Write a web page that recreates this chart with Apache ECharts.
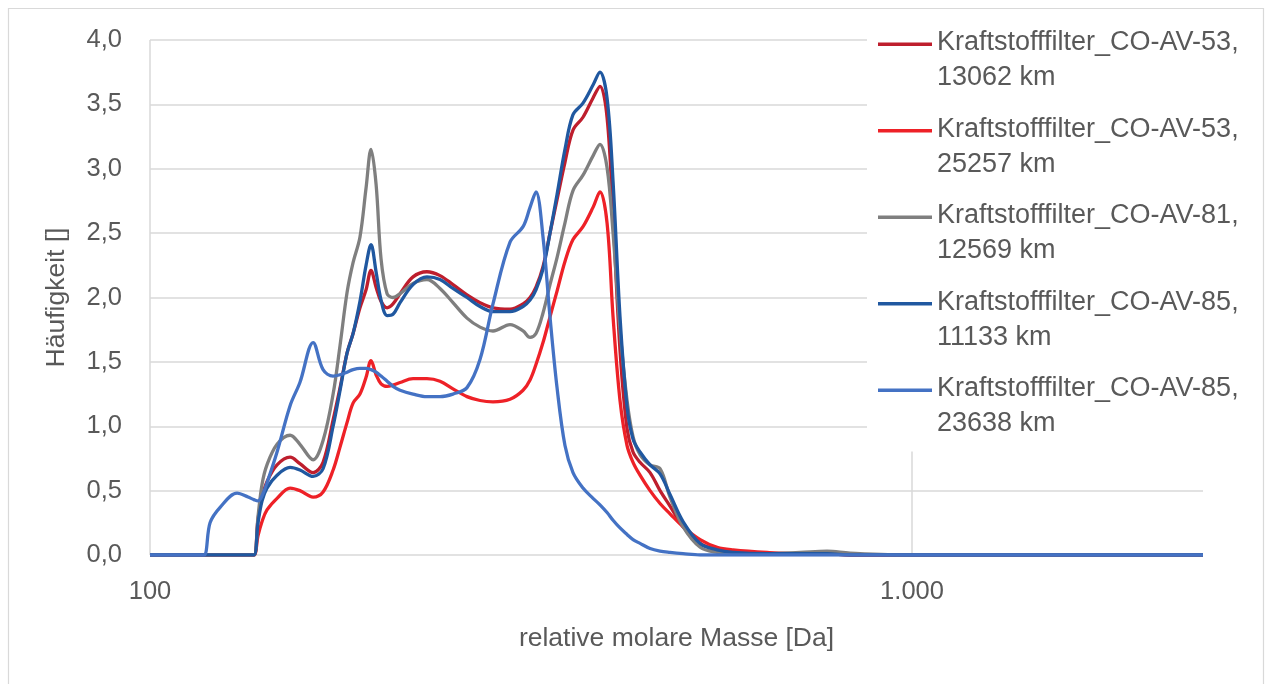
<!DOCTYPE html>
<html><head><meta charset="utf-8">
<script src="https://cdn.jsdelivr.net/npm/echarts@6/dist/echarts.min.js"></script>
<style>html,body{margin:0;padding:0;background:#fff}#c{width:1266px;height:684px}</style>
</head><body><div id="c"></div>
<script>
// relative molar mass [Da] (log axis)
const masses = [100, 114.9, 117.7, 119.9, 123.6, 130.1, 134.5, 136.9, 138.6, 140.3,
 142.4, 146.8, 152.7, 157.3, 163.7, 168.7, 173.9, 177.6, 181.4, 184.7,
 188.6, 192.1, 195.0, 198.0, 201.0, 204.7, 208.4, 212.9, 221.4, 230.9,
 240.2, 249.8, 260.6, 271.1, 281.9, 296.8, 308.7, 315.3, 321.0, 327.9,
 334.9, 342.1, 350.4, 359.0, 370.0, 381.4, 389.5, 397.9, 405.2, 413.8,
 422.7, 430.4, 439.6, 453.1, 467.0, 481.3, 500.6, 527.2, 554.9, 582.4,
 645.3, 712.9, 773.6, 829.3, 1000, 1518, 2409];

const av53_13062 = [0,0,0,0,0,0,0,0,0.28,0.45,
 0.57,0.70,0.76,0.71,0.64,0.72,1.05,1.30,1.57,1.72,
 1.92,2.06,2.21,2.08,1.97,1.92,1.95,2.03,2.16,2.20,
 2.17,2.10,2.02,1.96,1.92,1.91,1.95,2.00,2.08,2.24,
 2.50,2.76,3.05,3.30,3.40,3.55,3.64,3.40,2.63,1.59,
 0.98,0.80,0.72,0.64,0.50,0.38,0.22,0.09,0.04,0.02,
 0.01,0.01,0.01,0,0,0,0];

const av53_25257 = [0,0,0,0,0,0,0,0,0.15,0.26,
 0.35,0.44,0.52,0.50,0.45,0.49,0.66,0.84,1.03,1.18,
 1.25,1.38,1.51,1.40,1.33,1.31,1.32,1.34,1.37,1.37,
 1.35,1.29,1.23,1.20,1.19,1.21,1.28,1.36,1.48,1.65,
 1.85,2.05,2.28,2.45,2.55,2.70,2.82,2.58,1.85,1.20,
 0.85,0.72,0.62,0.50,0.40,0.32,0.22,0.12,0.06,0.04,
 0.02,0.01,0.01,0,0,0,0];

const av81_12569 = [0,0,0,0,0,0,0,0,0.30,0.55,
 0.70,0.86,0.93,0.86,0.74,0.89,1.25,1.63,2.04,2.27,
 2.47,2.85,3.15,2.88,2.30,2.03,2.00,2.03,2.11,2.14,
 2.07,1.96,1.84,1.77,1.74,1.79,1.74,1.69,1.72,1.88,
 2.10,2.31,2.58,2.83,2.95,3.10,3.19,3.01,2.50,1.75,
 1.20,0.92,0.78,0.70,0.67,0.45,0.22,0.06,0.02,0.01,
 0.01,0.02,0.03,0.015,0,0,0];

const av85_11133 = [0,0,0,0,0,0,0,0,0.25,0.42,
 0.52,0.62,0.68,0.66,0.61,0.67,1.00,1.28,1.57,1.72,
 1.97,2.25,2.41,2.20,1.98,1.86,1.87,1.96,2.10,2.16,
 2.14,2.07,2.00,1.93,1.89,1.89,1.93,1.98,2.06,2.22,
 2.50,2.80,3.15,3.42,3.51,3.65,3.75,3.55,2.90,1.85,
 1.15,0.90,0.80,0.70,0.63,0.47,0.26,0.09,0.04,0.02,
 0.01,0.01,0.01,0,0,0,0];

const av85_23638 = [0,0,0,0.25,0.37,0.48,0.45,0.43,0.42,0.46,
 0.56,0.80,1.16,1.34,1.65,1.44,1.39,1.40,1.42,1.44,
 1.45,1.45,1.44,1.42,1.39,1.35,1.31,1.28,1.25,1.23,
 1.23,1.25,1.30,1.52,1.95,2.43,2.55,2.70,2.82,2.47,
 1.85,1.30,0.85,0.64,0.52,0.44,0.39,0.33,0.27,0.21,
 0.16,0.12,0.09,0.05,0.03,0.02,0.01,0,0,0,
 0,0,0,0,0,0,0];

const seriesNames = [
 'Kraftstofffilter_CO-AV-53,\n13062 km',
 'Kraftstofffilter_CO-AV-53,\n25257 km',
 'Kraftstofffilter_CO-AV-81,\n12569 km',
 'Kraftstofffilter_CO-AV-85,\n11133 km',
 'Kraftstofffilter_CO-AV-85,\n23638 km'
];
const seriesValues = [av53_13062, av53_25257, av81_12569, av85_11133, av85_23638];
const seriesColors = ['#BE1E2D', '#EE2127', '#7F7F7F', '#2058A0', '#4472C4'];

const FONT = 'Liberation Sans';
const TXT = '#595959';

const chart = echarts.init(document.getElementById('c'), null, {renderer: 'canvas'});
const option = {
  animation: false,
  backgroundColor: '#fff',
  textStyle: {fontFamily: FONT},
  graphic: [{
    type: 'rect', silent: true, z: -10,
    shape: {x: 8.5, y: 8.5, width: 1255, height: 720},
    style: {fill: 'none', stroke: '#d9d9d9', lineWidth: 1.2}
  }],
  grid: {left: 150, right: 63, top: 40, bottom: 129},
  legend: {
    orient: 'vertical',
    left: 867, top: 15.5,
    padding: [10, 11, 10, 11],
    backgroundColor: '#ffffff',
    itemGap: 16.5,
    itemWidth: 54, itemHeight: 36,
    icon: 'path://M0,0H54V3.5H0Z M53.95,35.95H54V36H53.95Z',
    itemStyle: {borderWidth: 0},
    selectedMode: false,
    textStyle: {fontFamily: FONT, fontSize: 27, color: TXT, lineHeight: 35},
    data: seriesNames
  },
  xAxis: {
    type: 'log', logBase: 10, min: 100, max: 2409,
    name: 'relative molare Masse [Da]',
    nameLocation: 'middle', nameGap: 70,
    nameTextStyle: {fontFamily: FONT, fontSize: 26.5, color: TXT},
    axisLine: {show: false},
    axisTick: {show: false},
    axisLabel: {
      fontFamily: FONT, fontSize: 25.5, color: TXT, margin: 24,
      showMaxLabel: false,
      formatter: function (v) {
        const n = Math.round(v);
        return String(n).replace(/\B(?=(\d{3})+(?!\d))/g, '.');
      }
    },
    splitLine: {show: true, showMaxLine: false, lineStyle: {color: '#d9d9d9', width: 1.5}}
  },
  yAxis: {
    type: 'value', min: 0, max: 4, interval: 0.5,
    name: 'Häufigkeit []',
    nameLocation: 'middle', nameGap: 80, nameRotate: 90,
    nameTextStyle: {fontFamily: FONT, fontSize: 26.5, color: TXT},
    axisLine: {show: false},
    axisTick: {show: false},
    axisLabel: {
      fontFamily: FONT, fontSize: 25.5, color: TXT, margin: 28,
      formatter: function (v) { return v.toFixed(1).replace('.', ','); }
    },
    splitLine: {show: true, lineStyle: {color: '#d9d9d9', width: 1.5}}
  },
  series: seriesNames.map(function (name, k) {
    return {
      name: name,
      type: 'line',
      smooth: 0.35,
      showSymbol: false,
      symbol: 'none',
      clip: true,
      color: seriesColors[k],
      lineStyle: {color: seriesColors[k], width: 3.3},
      data: masses.map(function (m, i) { return [m, seriesValues[k][i]]; })
    };
  })
};
chart.setOption(option);
</script>
</body></html>
